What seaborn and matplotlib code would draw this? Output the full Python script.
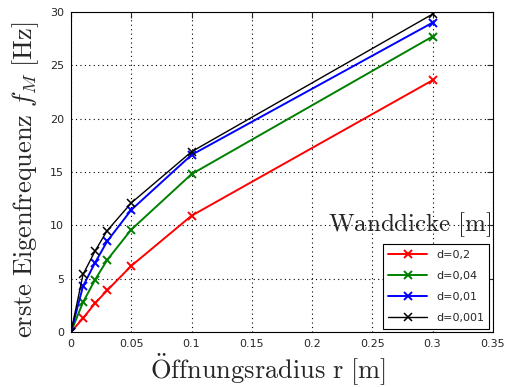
import numpy as np
import pandas as pd
import matplotlib
matplotlib.use("Agg")
import matplotlib.pyplot as plt
import seaborn as sns

# Radius values [m] and first eigenfrequency [Hz] per wall thickness
radius = [0.0, 0.01, 0.02, 0.03, 0.05, 0.1, 0.3]
f_d0200 = [0.0, 1.3, 2.7, 3.9, 6.2, 10.9, 23.6]
f_d0040 = [0.0, 2.8, 4.9, 6.75, 9.6, 14.8, 27.7]
f_d0010 = [0.0, 4.3, 6.5, 8.5, 11.45, 16.6, 29.0]
f_d0001 = [0.0, 5.4, 7.6, 9.5, 12.1, 16.9, 29.8]
labels = ["d=0,2", "d=0,04", "d=0,01", "d=0,001"]
colors = ["#ff0000", "#008000", "#0000ff", "#000000"]

series = [f_d0200, f_d0040, f_d0010, f_d0001]
df = pd.concat(
    [pd.DataFrame({"r": radius, "f": vals, "d": lab}) for vals, lab in zip(series, labels)],
    ignore_index=True,
)

sns.set_style("white")
plt.rcParams["mathtext.fontset"] = "cm"
plt.rcParams["xtick.direction"] = "in"
plt.rcParams["ytick.direction"] = "in"

fig = plt.figure(figsize=(5.07, 3.87), dpi=100)
ax = fig.add_axes([0.140, 0.142, 0.832, 0.827])

sns.lineplot(data=df, x="r", y="f", hue="d", palette=dict(zip(labels, colors)),
             marker="x", markersize=6, markeredgewidth=1.4, linewidth=1.4,
             ax=ax, legend=False)
# MATLAB-style: markers in line colour, black line a bit thinner
for line in ax.lines:
    c = line.get_color()
    line.set_markeredgecolor(c)
    line.set_markerfacecolor(c)
    if matplotlib.colors.to_hex(c) == "#000000":
        line.set_linewidth(1.0)
        line.set_markeredgewidth(1.1)

ax.set_xlim(0, 0.35)
ax.set_ylim(0, 30)
ax.set_xticks(np.arange(0, 0.351, 0.05))
ax.set_xticklabels(["0", "0.05", "0.1", "0.15", "0.2", "0.25", "0.3", "0.35"])
ax.set_yticks(range(0, 31, 5))
ax.tick_params(labelsize=8, length=4, width=0.8, top=True, right=True, pad=5)
ax.grid(True, linestyle=(0, (1, 3)), color="black", linewidth=0.8)
for s in ax.spines.values():
    s.set_color("black")
    s.set_linewidth(0.8)

ax.set_xlabel(r"$\mathrm{\"Offnungsradius\ r\ [m]}$", fontsize=19)
ax.set_ylabel(r"$\mathrm{erste\ Eigenfrequenz}\ f_M\ \mathrm{[Hz]}$", fontsize=19)
ax.xaxis.set_label_coords(0.467, -0.058)
ax.yaxis.set_label_coords(-0.072, 0.475)

leg = ax.legend(ax.lines, labels, loc="lower right", fontsize=8, frameon=True,
                fancybox=False, edgecolor="black", framealpha=1, borderaxespad=0.3,
                handlelength=3.5, labelspacing=1.0, borderpad=0.5)
leg.get_frame().set_linewidth(0.8)

ax.text(0.995, 0.29, r"$\mathrm{Wanddicke\ [m]}$", transform=ax.transAxes,
        ha="right", va="bottom", fontsize=18)

fig.savefig("out.png", dpi=100)
